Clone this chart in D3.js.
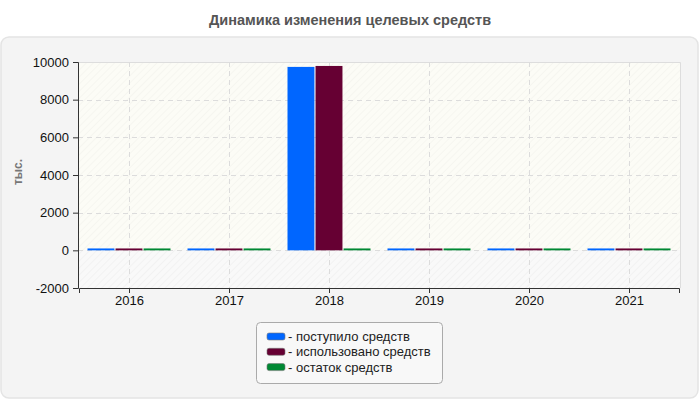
<!DOCTYPE html>
<html>
<head>
<meta charset="utf-8">
<title>Динамика изменения целевых средств</title>
<script src="https://d3js.org/d3.v7.min.js"></script>
<style>
  body { margin: 0; background: #fff; font-family: "Liberation Sans", Arial, sans-serif; }
</style>
</head>
<body>
<script>
// данные
var years = ["2016", "2017", "2018", "2019", "2020", "2021"];
var received = [100, 100, 9740, 100, 100, 100];   // поступило средств
var used     = [100, 100, 9790, 100, 100, 100];   // использовано средств
var rest     = [100, 100, 100, 100, 100, 100];    // остаток средств
var seriesNames = ["поступило средств", "использовано средств", "остаток средств"];
var seriesColors = ["#0066ff", "#660033", "#008833"];
var yTicks = [-2000, 0, 2000, 4000, 6000, 8000, 10000];

var width = 700, height = 400;
var plotLeft = 78, plotRight = 680, plotTop = 62, plotBottom = 288;

var svg = d3.select("body").append("svg").attr("width", width).attr("height", height);

// штриховка фона
var defs = svg.append("defs");
function hatch(id, bg, line) {
  var p = defs.append("pattern").attr("id", id).attr("patternUnits", "userSpaceOnUse")
    .attr("width", 5).attr("height", 5).attr("patternTransform", "rotate(45)");
  p.append("rect").attr("width", 5).attr("height", 5).attr("fill", bg);
  p.append("line").attr("x1", 0).attr("y1", 0).attr("x2", 0).attr("y2", 5)
    .attr("stroke", line).attr("stroke-width", 1);
}
hatch("hatchPos", "#fcfcf6", "#f1f1ea");
hatch("hatchNeg", "#f9f9f9", "#ececec");

// заголовок
svg.append("text").attr("x", width / 2).attr("y", 25).attr("text-anchor", "middle")
  .attr("font-size", 14.5).attr("font-weight", "bold").attr("fill", "#555")
  .text("Динамика изменения целевых средств");

// панель
svg.append("rect").attr("x", 1).attr("y", 37).attr("width", 697).attr("height", 361)
  .attr("rx", 8).attr("fill", "#f4f4f4").attr("stroke", "#e4e4e4").attr("stroke-width", 1.5);

var x = d3.scaleBand().domain(years).range([plotLeft + 1, plotRight - 1]).paddingInner(0.17).paddingOuter(0.085);
var xCenter = d3.scalePoint().domain(years).range([plotLeft + 1, plotRight - 1]).padding(0.5);
var y = d3.scaleLinear().domain([-2000, 10000]).range([plotBottom, plotTop]);
var xSub = d3.scaleBand().domain(d3.range(3)).range([0, x.bandwidth()]).paddingInner(0.04);

// фон
svg.append("rect").attr("x", plotLeft).attr("y", plotTop).attr("width", plotRight - plotLeft)
  .attr("height", y(0) - plotTop).attr("fill", "url(#hatchPos)");
svg.append("rect").attr("x", plotLeft).attr("y", y(0)).attr("width", plotRight - plotLeft)
  .attr("height", plotBottom - y(0)).attr("fill", "url(#hatchNeg)");
svg.append("path").attr("d", "M" + plotLeft + "," + (plotTop + 0.5) + "H" + (plotRight + 0.5) + "V" + plotBottom)
  .attr("fill", "none").attr("stroke", "#ddd");

// сетка
svg.append("g").selectAll("line").data(yTicks.filter(function(d) { return d > -2000 && d < 10000; }))
  .enter().append("line")
  .attr("x1", plotLeft).attr("x2", plotRight)
  .attr("y1", function(d) { return Math.round(y(d)) + 0.5; })
  .attr("y2", function(d) { return Math.round(y(d)) + 0.5; })
  .attr("stroke", "#dcdcdc").attr("stroke-dasharray", "5,4");
svg.append("g").selectAll("line").data(years).enter().append("line")
  .attr("x1", function(d) { return Math.round(xCenter(d)) + 0.5; })
  .attr("x2", function(d) { return Math.round(xCenter(d)) + 0.5; })
  .attr("y1", plotTop).attr("y2", plotBottom)
  .attr("stroke", "#dcdcdc").attr("stroke-dasharray", "5,4");

// столбцы
var series = [received, used, rest];
series.forEach(function(vals, si) {
  svg.append("g").selectAll("rect").data(vals).enter().append("rect")
    .attr("x", function(d, i) { return x(years[i]) + xSub(si); })
    .attr("y", function(d) { return y(d); })
    .attr("width", xSub.bandwidth())
    .attr("height", function(d) { return y(0) - y(d); })
    .attr("fill", seriesColors[si]);
});

// оси
var yAxis = svg.append("g").attr("transform", "translate(" + plotLeft + ",0)")
  .call(d3.axisLeft(y).tickValues(yTicks).tickFormat(function(d) { return String(d); })
    .tickSize(5).tickPadding(4));
var xAxis = svg.append("g").attr("transform", "translate(0," + plotBottom + ")")
  .call(d3.axisBottom(xCenter).tickSize(5).tickPadding(3));
[yAxis, xAxis].forEach(function(a) {
  a.select(".domain").attr("stroke", "#333");
  a.selectAll(".tick line").attr("stroke", "#333");
  a.selectAll("text").attr("font-size", 13).attr("fill", "#111")
    .attr("font-family", "'Liberation Sans', Arial, sans-serif");
});

// подпись оси
svg.append("text").attr("transform", "translate(22,172) rotate(-90)")
  .attr("text-anchor", "middle").attr("font-size", 12).attr("font-weight", "bold")
  .attr("fill", "#777").text("тыс.");

// легенда
var lg = svg.append("g").attr("transform", "translate(256,322)");
lg.append("rect").attr("x", 0.5).attr("y", 0.5).attr("width", 186).attr("height", 61)
  .attr("rx", 4).attr("fill", "#f8f8f8").attr("stroke", "#aaa");
seriesNames.forEach(function(name, i) {
  var row = lg.append("g").attr("transform", "translate(0," + (14.5 + i * 15.3) + ")");
  row.append("rect").attr("x", 11).attr("y", -3.5).attr("width", 18).attr("height", 7)
    .attr("rx", 2).attr("fill", seriesColors[i]).attr("stroke", "#777").attr("stroke-width", 0.6);
  row.append("text").attr("x", 32).attr("y", 4.5).attr("font-size", 13).attr("fill", "#222")
    .text("- " + name);
});
</script>
</body>
</html>
